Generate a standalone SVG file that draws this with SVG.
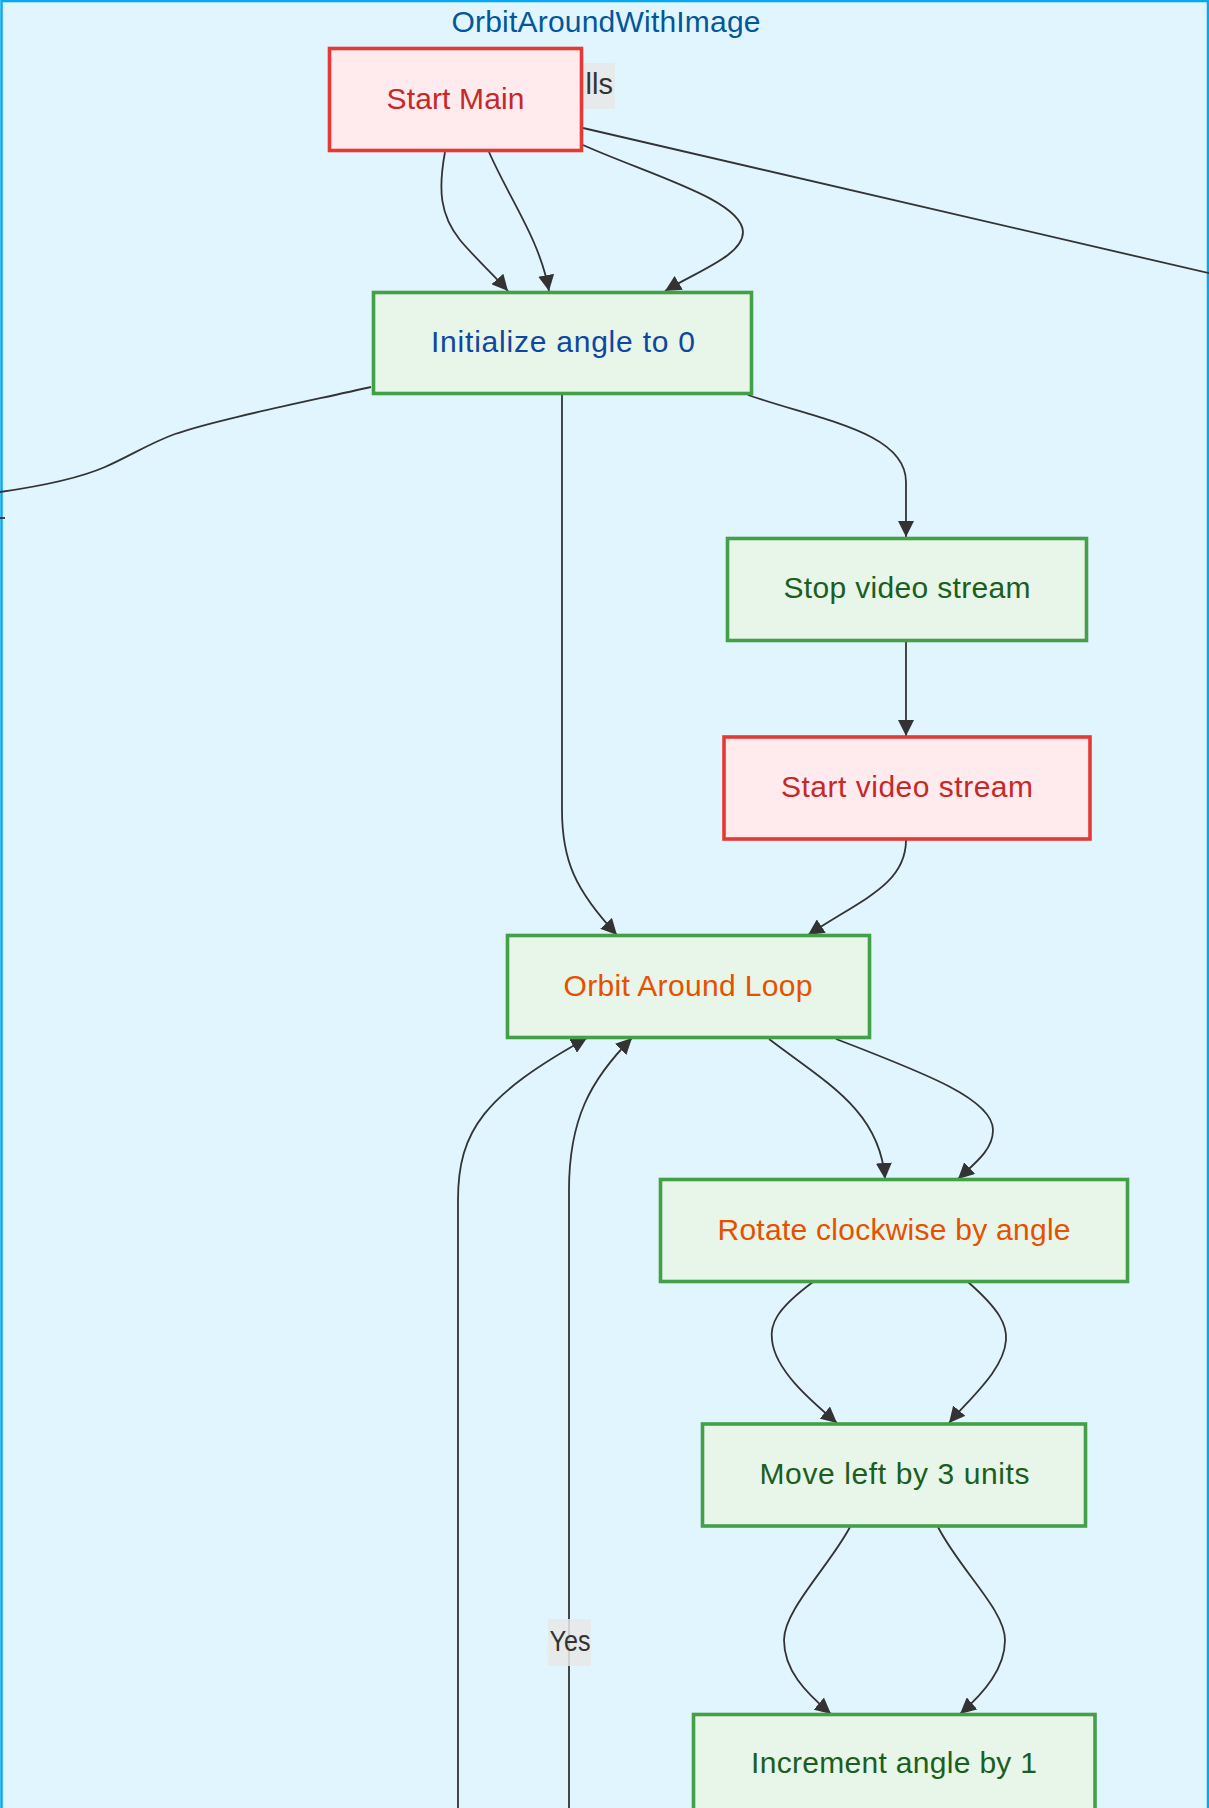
<svg xmlns="http://www.w3.org/2000/svg" width="1209" height="1808" viewBox="0 0 1209 1808">
<style>
text{font-family:"Liberation Sans","DejaVu Sans",Arial,sans-serif;font-size:30px;text-anchor:middle}
.edge{fill:none;stroke:#333333;stroke-width:1.8}
.green rect{fill:#E8F5E9;stroke:#43A047;stroke-width:3.6}
.red rect{fill:#FFEBEE;stroke:#E53935;stroke-width:3.6}
.lbl rect{fill:#E8E8E8;fill-opacity:0.85}
.lbl text{fill:#333333;font-size:29px}
</style>
<defs>
<marker id="arrow" markerUnits="userSpaceOnUse" markerWidth="16" markerHeight="16" viewBox="0 0 10 10" refX="10" refY="5" orient="auto">
<path d="M0,0 L10,5 L0,10 z" fill="#333333"/>
</marker>
</defs>
<rect x="0" y="0" width="1209" height="1808" fill="#ffffff"/>
<g id="cluster-OrbitAroundWithImage">
<rect x="1.5" y="1" width="1206.5" height="1900" fill="#E1F5FE" stroke="#03A9F4" stroke-width="2.5"/>
<text x="606" y="32" fill="#01579B" textLength="309">OrbitAroundWithImage</text>
</g>
<g id="edge-labels">
<g class="lbl" id="label-calls">
<rect x="560" y="63" width="55" height="46"/>
<text x="613" y="94" style="text-anchor:end">lls</text>
</g>
</g>
<g id="connectors">
<path class="edge" d="M445,152 C438,190 440,215 460,240 C475,258 492,273 508,291" marker-end="url(#arrow)"/>
<path class="edge" d="M489,152 C510,200 540,240 549,291" marker-end="url(#arrow)"/>
<path class="edge" d="M583,145 C650,175 742,200 743,232 C743,255 700,270 665,291" marker-end="url(#arrow)"/>
<path class="edge" d="M583,128 L1260,285"/>
<path class="edge" d="M371,387 C300,403 215,420 175,434 C150,443 130,456 105,467 C75,480 35,487 0,492"/>
<path class="edge" d="M0,518 L5,518"/>
<path class="edge" d="M562,394 L562,810 C562,860 575,890 617,935" marker-end="url(#arrow)"/>
<path class="edge" d="M748,395 C820,420 906,432 906,482 L906,537" marker-end="url(#arrow)"/>
<path class="edge" d="M906,642 L906,736" marker-end="url(#arrow)"/>
<path class="edge" d="M906,840 C906,885 860,900 808,935" marker-end="url(#arrow)"/>
<path class="edge" d="M769,1039 C825,1082 880,1110 885,1179" marker-end="url(#arrow)"/>
<path class="edge" d="M836,1039 C930,1075 993,1100 993,1130 C993,1150 975,1163 958,1179" marker-end="url(#arrow)"/>
<path class="edge" d="M458,1830 L458,1200 C458,1130 485,1095 587,1038" marker-end="url(#arrow)"/>
<path class="edge" d="M569,1830 L569,1190 C569,1120 590,1080 632,1038" marker-end="url(#arrow)"/>
<path class="edge" d="M813,1282 C775,1310 770,1325 772,1340 C775,1370 810,1400 837,1423" marker-end="url(#arrow)"/>
<path class="edge" d="M968,1282 C1000,1310 1007,1325 1006,1340 C1004,1370 970,1398 949,1423" marker-end="url(#arrow)"/>
<path class="edge" d="M850,1527 C830,1565 784,1610 784,1640 C784,1670 805,1692 831,1714" marker-end="url(#arrow)"/>
<path class="edge" d="M938,1527 C960,1570 1005,1610 1005,1640 C1005,1668 985,1692 960,1714" marker-end="url(#arrow)"/>
</g>
<g class="lbl" id="label-yes">
<rect x="548" y="1619" width="43" height="47"/>
<text x="570" y="1651" textLength="41" lengthAdjust="spacingAndGlyphs">Yes</text>
</g>
<g id="node-StartMain" class="red">
<rect x="329.5" y="48.5" width="252" height="102"/>
<text x="455.5" y="109" fill="#C62828" textLength="138">Start Main</text>
</g>
<g id="node-InitAngle" class="green">
<rect x="373.5" y="292.5" width="378" height="101"/>
<text x="563" y="352" fill="#0D47A1" textLength="264">Initialize angle to 0</text>
</g>
<g id="node-StopVideo" class="green">
<rect x="727.5" y="538.5" width="359" height="102"/>
<text x="907" y="598" fill="#1B5E20" textLength="247">Stop video stream</text>
</g>
<g id="node-StartVideo" class="red">
<rect x="724" y="737" width="366" height="102"/>
<text x="907" y="797" fill="#C62828" textLength="252">Start video stream</text>
</g>
<g id="node-OrbitLoop" class="green">
<rect x="507.5" y="935.5" width="362" height="102"/>
<text x="688" y="996" fill="#E65100" textLength="249">Orbit Around Loop</text>
</g>
<g id="node-Rotate" class="green">
<rect x="660.5" y="1179.5" width="467" height="102"/>
<text x="894" y="1240" fill="#E65100" textLength="353">Rotate clockwise by angle</text>
</g>
<g id="node-MoveLeft" class="green">
<rect x="702.5" y="1424" width="383" height="102"/>
<text x="894.5" y="1484" fill="#1B5E20" textLength="270">Move left by 3 units</text>
</g>
<g id="node-Increment" class="green">
<rect x="693.5" y="1714.5" width="401.5" height="102"/>
<text x="894" y="1773" fill="#1B5E20" textLength="286">Increment angle by 1</text>
</g>
</svg>
